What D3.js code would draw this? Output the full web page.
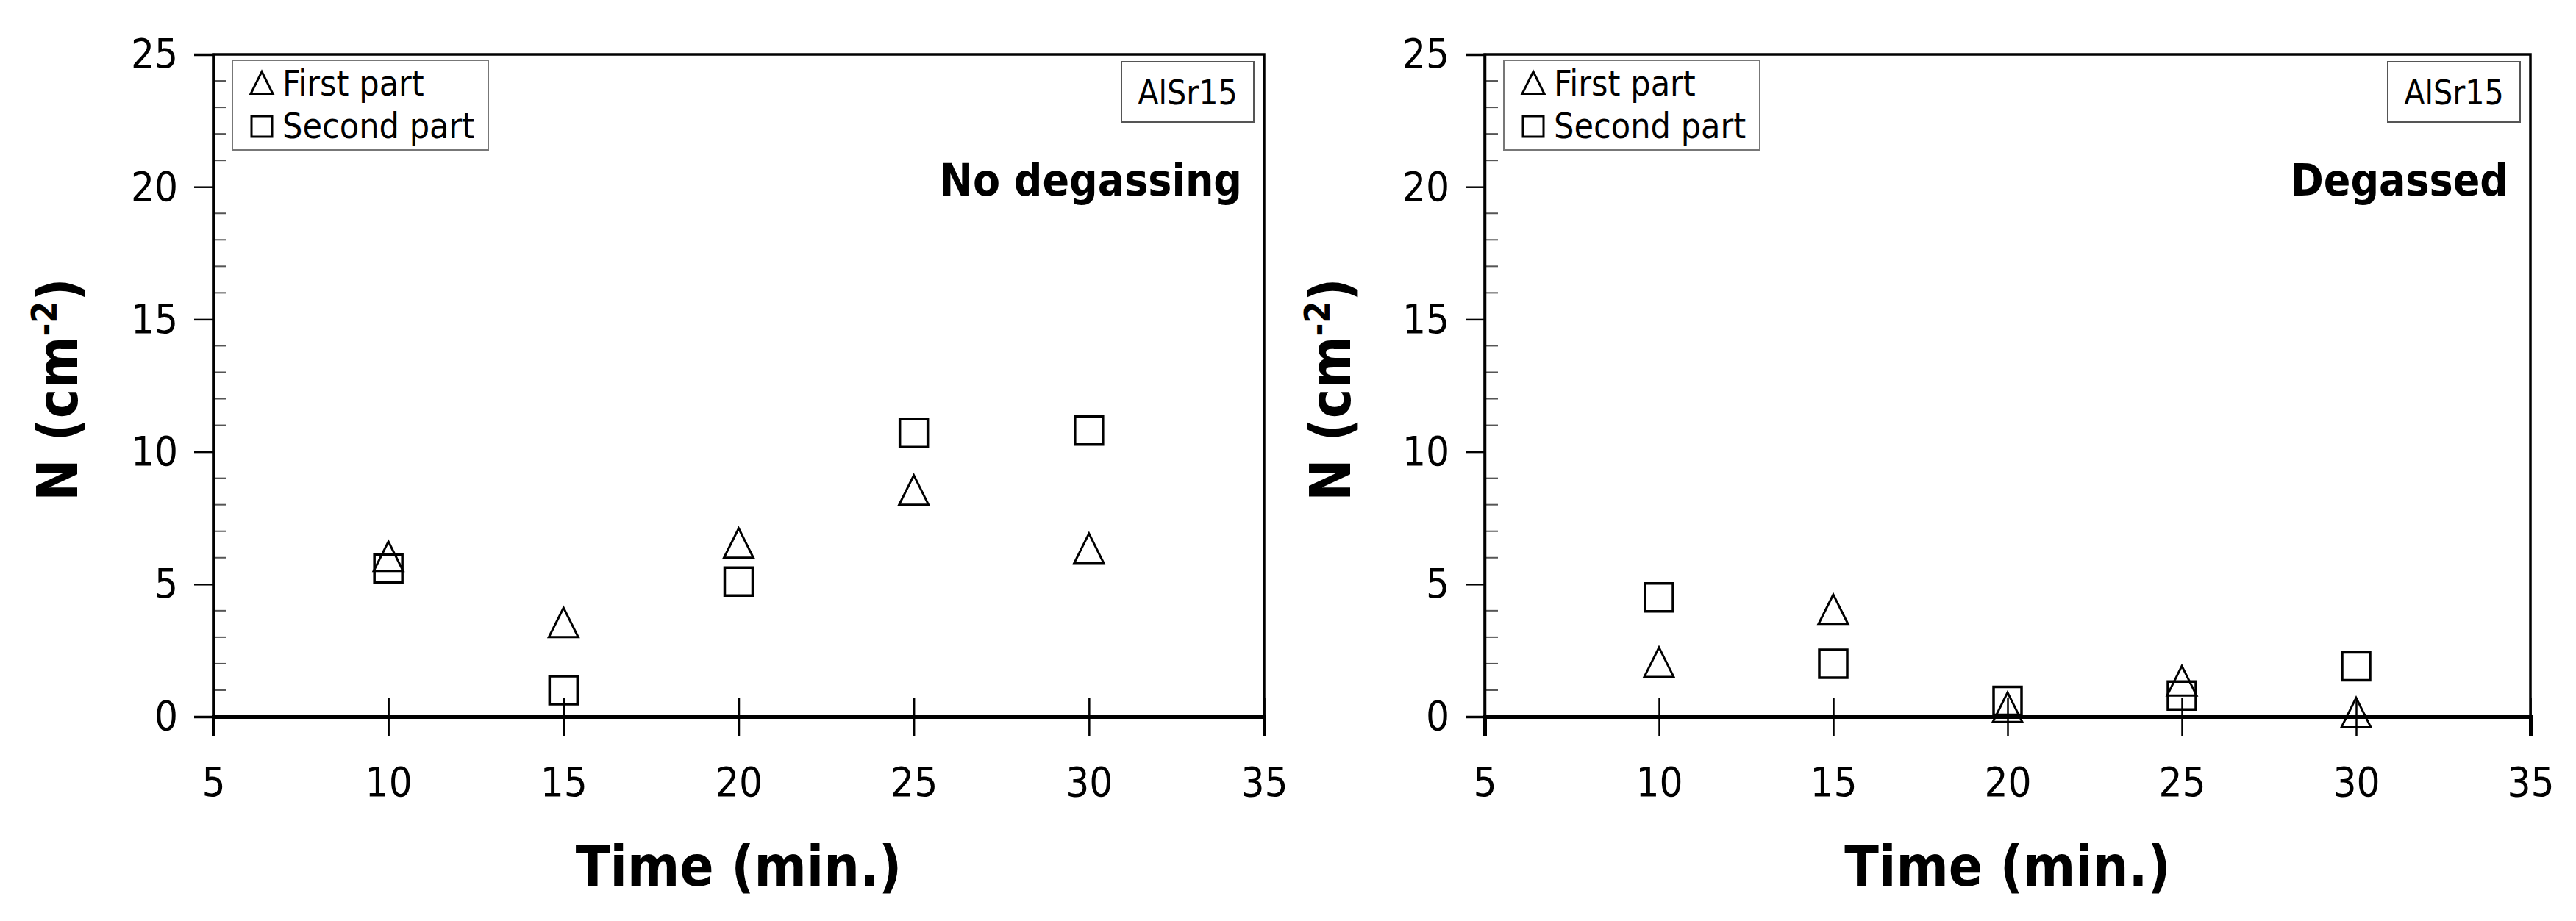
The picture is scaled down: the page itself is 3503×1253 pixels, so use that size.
<!DOCTYPE html>
<html><head><meta charset="utf-8">
<script src="https://cdn.jsdelivr.net/npm/d3@7"></script>
<style>body{margin:0;background:#fff}</style></head>
<body><svg id="c" width="3503" height="1253"></svg>
<script>
const times = [10, 15, 20, 25, 30];
const firstNoDegas = [6.0, 3.5, 6.5, 8.5, 6.3];
const secondNoDegas = [5.6, 1.0, 5.1, 10.7, 10.8];
const firstDegassed = [2.0, 4.0, 0.3, 1.3, 0.1];
const secondDegassed = [4.5, 2.0, 0.6, 0.8, 1.9];
const xTicks = [5, 10, 15, 20, 25, 30, 35];
const yTicks = [0, 5, 10, 15, 20, 25];
const panels = [
  {left: 290, right: 1719, title: "No degassing", first: firstNoDegas, second: secondNoDegas, ylab: 79},
  {left: 2019, right: 3441, title: "Degassed", first: firstDegassed, second: secondDegassed, ylab: 1810}
];
const FONT = "'Liberation Sans Narrow','DejaVu Sans Condensed',Roboto,sans-serif";
const svg = d3.select("#c");
const plotTop = 74, plotBottom = 975;
const tri = s => `M0,${-s*0.55}L${s*0.5},${s*0.45}L${-s*0.5},${s*0.45}Z`;
const sq = s => `M${-s/2},${-s/2}h${s}v${s}h${-s}Z`;
panels.forEach(p => {
  const g = svg.append("g");
  const x = d3.scaleLinear().domain([5, 35]).range([p.left, p.right]);
  const y = d3.scaleLinear().domain([0, 25]).range([plotBottom, plotTop]);
  g.append("rect").attr("x", p.left).attr("y", plotTop).attr("width", p.right - p.left).attr("height", plotBottom - plotTop)
    .attr("fill", "none").attr("stroke", "#000").attr("stroke-width", 3.5);
  d3.range(0, 26).forEach(v => {
    if (v % 5) g.append("line").attr("x1", p.left).attr("x2", p.left + 18).attr("y1", y(v)).attr("y2", y(v)).attr("stroke", "#555").attr("stroke-width", 2);
  });
  const ya = g.append("g").attr("transform", `translate(${p.left},0)`).call(d3.axisLeft(y).tickValues(yTicks).tickSize(26).tickPadding(22));
  ya.select(".domain").attr("stroke-width", 3.5);
  ya.selectAll(".tick line").attr("stroke-width", 2.5);
  ya.selectAll("text").attr("font-family", FONT).attr("font-size", 56).attr("fill", "#000");
  const xa = g.append("g").attr("transform", `translate(0,${plotBottom})`).call(d3.axisBottom(x).tickValues(xTicks).tickSize(26).tickPadding(42));
  xa.select(".domain").attr("stroke-width", 5);
  xa.selectAll(".tick line").attr("y1", -26).attr("stroke-width", 2.5);
  xa.selectAll("text").attr("font-family", FONT).attr("font-size", 56).attr("fill", "#000");
  g.append("text").attr("x", (p.left + p.right) / 2).attr("y", 1205).attr("text-anchor", "middle")
    .attr("font-family", FONT).attr("font-weight", "bold").attr("font-size", 76).text("Time (min.)");
  const yl = g.append("text").attr("transform", `translate(${p.ylab + 26},530) rotate(-90)`).attr("text-anchor", "middle")
    .attr("font-family", FONT).attr("font-weight", "bold").attr("font-size", 76);
  yl.append("tspan").text("N (cm");
  yl.append("tspan").attr("font-size", 48).attr("dy", -28).text("-2");
  yl.append("tspan").attr("dy", 28).text(")");
  g.selectAll(".sq").data(times).join("path").attr("d", sq(38))
    .attr("transform", (d, i) => `translate(${x(d)},${y(p.second[i])})`).attr("fill", "none").attr("stroke", "#000").attr("stroke-width", 3.5);
  g.selectAll(".tr").data(times).join("path").attr("d", tri(40))
    .attr("transform", (d, i) => `translate(${x(d)},${y(p.first[i])})`).attr("fill", "none").attr("stroke", "#000").attr("stroke-width", 3);
  const lx = p.left + 26;
  g.append("rect").attr("x", lx).attr("y", 82).attr("width", 348).attr("height", 122).attr("fill", "#fff").attr("stroke", "#777").attr("stroke-width", 2);
  g.append("path").attr("d", tri(30)).attr("transform", `translate(${lx + 40},114)`).attr("fill", "none").attr("stroke", "#000").attr("stroke-width", 3);
  g.append("path").attr("d", sq(28)).attr("transform", `translate(${lx + 40},172)`).attr("fill", "none").attr("stroke", "#000").attr("stroke-width", 3);
  g.append("text").attr("x", lx + 68).attr("y", 130).attr("font-family", FONT).attr("font-size", 48).text("First part");
  g.append("text").attr("x", lx + 68).attr("y", 188).attr("font-family", FONT).attr("font-size", 48).text("Second part");
  g.append("rect").attr("x", p.right - 194).attr("y", 84).attr("width", 180).attr("height", 82).attr("fill", "#fff").attr("stroke", "#555").attr("stroke-width", 2);
  g.append("text").attr("x", p.right - 104).attr("y", 142).attr("text-anchor", "middle").attr("font-family", FONT).attr("font-size", 46).text("AlSr15");
  g.append("text").attr("x", p.right - 30).attr("y", 266).attr("text-anchor", "end").attr("font-family", FONT).attr("font-weight", "bold").attr("font-size", 60).text(p.title);
});
</script></body></html>
